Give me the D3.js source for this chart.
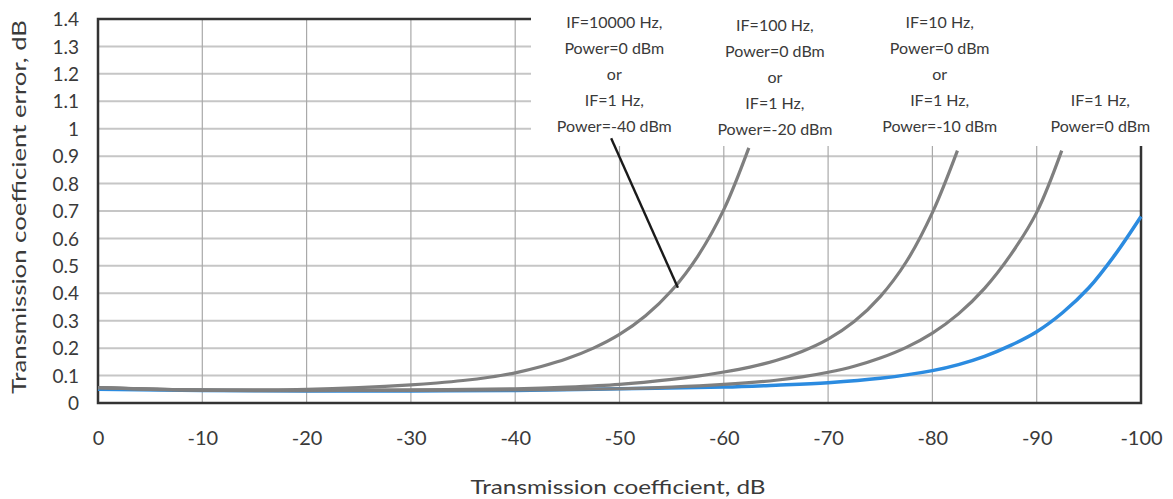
<!DOCTYPE html>
<html>
<head>
<meta charset="utf-8">
<script src="https://cdn.jsdelivr.net/npm/d3@7"></script>
<style>
  html, body { margin: 0; padding: 0; background: #fff; }
  svg { display: block; }
  text { font-family: "Lato", "Open Sans", sans-serif; fill: #3a3a3a; }
</style>
</head>
<body>
<svg id="chart" width="1173" height="499"></svg>
<script>
// ---- data ----
const xTicks = [0, -10, -20, -30, -40, -50, -60, -70, -80, -90, -100];
const yTicks = [0, 0.1, 0.2, 0.3, 0.4, 0.5, 0.6, 0.7, 0.8, 0.9, 1, 1.1, 1.2, 1.3, 1.4];

const if10000_x = [0, -5, -10, -15, -20, -25, -30, -32.5, -35, -37.5, -40, -42.5, -45, -47.5, -50, -52.5, -55, -57.5, -60, -62.4];
const if10000_y = [0.056, 0.050, 0.048, 0.048, 0.050, 0.056, 0.066, 0.073, 0.082, 0.094, 0.11, 0.133, 0.162, 0.20, 0.25, 0.318, 0.41, 0.535, 0.705, 0.93];

const if100_x = [0, -10, -20, -30, -40, -45, -50, -55, -57.5, -60, -62.5, -65, -67.5, -70, -72.5, -75, -77.5, -80, -82.4];
const if100_y = [0.056, 0.047, 0.045, 0.048, 0.052, 0.058, 0.068, 0.086, 0.098, 0.113, 0.131, 0.155, 0.188, 0.233, 0.297, 0.388, 0.515, 0.694, 0.92];

const if10_x = [0, -10, -20, -30, -40, -50, -55, -60, -65, -67.5, -70, -72.5, -75, -77.5, -80, -82.5, -85, -87.5, -90, -92.4];
const if10_y = [0.056, 0.047, 0.046, 0.046, 0.048, 0.052, 0.058, 0.068, 0.083, 0.095, 0.112, 0.134, 0.164, 0.203, 0.255, 0.325, 0.418, 0.54, 0.695, 0.92];

const if1_x = [0, -10, -20, -30, -40, -50, -60, -65, -70, -75, -80, -82.5, -85, -87.5, -90, -92.5, -95, -97.5, -100];
const if1_y = [0.050, 0.046, 0.044, 0.044, 0.046, 0.052, 0.058, 0.065, 0.074, 0.09, 0.118, 0.14, 0.17, 0.21, 0.26, 0.33, 0.42, 0.54, 0.68];

const labels = [
  { cx: -49.5, lines: ["IF=10000 Hz,", "Power=0 dBm", "or", "IF=1 Hz,", "Power=-40 dBm"], dy: 0 },
  { cx: -64.9, lines: ["IF=100 Hz,", "Power=0 dBm", "or", "IF=1 Hz,", "Power=-20 dBm"], dy: 3 },
  { cx: -80.7, lines: ["IF=10 Hz,", "Power=0 dBm", "or", "IF=1 Hz,", "Power=-10 dBm"], dy: 0 },
  { cx: -96.1, lines: ["", "", "", "IF=1 Hz,", "Power=0 dBm"], dy: 0 }
];
// leader from the first label to the IF=10000 curve (in data units)
const leader = { x1: -49.2, y1: 0.965, x2: -55.6, y2: 0.42 };

// ---- drawing ----
const svg = d3.select("#chart");
const x = d3.scaleLinear().domain([0, -100]).range([98, 1141]);
const y = d3.scaleLinear().domain([0, 1.4]).range([403, 19]);
const fmt = d => d3.format("~g")(d).replace("\u2212", "-");

// gridlines
svg.append("g").selectAll("line").data(yTicks.filter(v => v > 0 && v < 1.4)).join("line")
  .attr("x1", x(0)).attr("x2", x(-100))
  .attr("y1", d => y(d)).attr("y2", d => y(d))
  .attr("stroke", "#c6c6c6").attr("stroke-width", 2);
svg.append("g").selectAll("line").data(xTicks.filter(v => v < 0 && v > -100)).join("line")
  .attr("x1", d => x(d)).attr("x2", d => x(d))
  .attr("y1", y(0)).attr("y2", y(1.4))
  .attr("stroke", "#a9a9a9").attr("stroke-width", 1.2);

// frame
svg.append("rect")
  .attr("x", x(0)).attr("y", y(1.4))
  .attr("width", x(-100) - x(0)).attr("height", y(0) - y(1.4))
  .attr("fill", "none").attr("stroke", "#333").attr("stroke-width", 2.5);

// white annotation area
svg.append("rect").attr("x", 531).attr("y", 0).attr("width", 642).attr("height", 146).attr("fill", "#fff");

// curves
const line = d3.line().x(d => x(d[0])).y(d => y(d[1])).curve(d3.curveCatmullRom.alpha(0.5));
const zip = (a, b) => a.map((v, i) => [v, b[i]]);

svg.append("path").datum(zip(if1_x, if1_y)).attr("d", line)
  .attr("fill", "none").attr("stroke", "#2b8be0").attr("stroke-width", 3.5);
[[if10_x, if10_y], [if100_x, if100_y], [if10000_x, if10000_y]].forEach(([a, b]) => {
  svg.append("path").datum(zip(a, b)).attr("d", line)
    .attr("fill", "none").attr("stroke", "#7f7f7f").attr("stroke-width", 3.2);
});

// axes
const yAxis = svg.append("g").attr("transform", `translate(${x(0) - 19},0)`)
  .call(d3.axisLeft(y).tickValues(yTicks).tickSize(0).tickPadding(0).tickFormat(fmt));
yAxis.select(".domain").remove();
yAxis.selectAll("text").attr("font-size", 19).attr("dy", "0.35em")
  .style("font-family", '"Lato", "Open Sans", sans-serif').attr("fill", "#3a3a3a");

const xAxis = svg.append("g").attr("transform", `translate(0,${y(0) + 28})`)
  .call(d3.axisBottom(x).tickValues(xTicks).tickSize(0).tickPadding(0).tickFormat(fmt));
xAxis.select(".domain").remove();
xAxis.selectAll("text").attr("font-size", 20)
  .style("font-family", '"Lato", "Open Sans", sans-serif').attr("fill", "#3a3a3a");

// axis titles
svg.append("text").attr("x", 618).attr("y", 494).attr("text-anchor", "middle")
  .attr("font-size", 19).attr("textLength", 295).attr("lengthAdjust", "spacingAndGlyphs")
  .text("Transmission coefficient, dB");
svg.append("text").attr("transform", "translate(26,207) rotate(-90)").attr("text-anchor", "middle")
  .attr("font-size", 19).attr("textLength", 374).attr("lengthAdjust", "spacingAndGlyphs")
  .text("Transmission coefficient error, dB");

// annotations
labels.forEach(l => {
  const g = svg.append("text").attr("text-anchor", "middle").attr("font-size", 16).attr("fill", "#555");
  l.lines.forEach((t, i) => {
    g.append("tspan").attr("x", x(l.cx)).attr("y", 28 + l.dy + i * 26).text(t);
  });
});
svg.append("line")
  .attr("x1", x(leader.x1)).attr("y1", y(leader.y1))
  .attr("x2", x(leader.x2)).attr("y2", y(leader.y2))
  .attr("stroke", "#1a1a1a").attr("stroke-width", 2.4);
</script>
</body>
</html>
